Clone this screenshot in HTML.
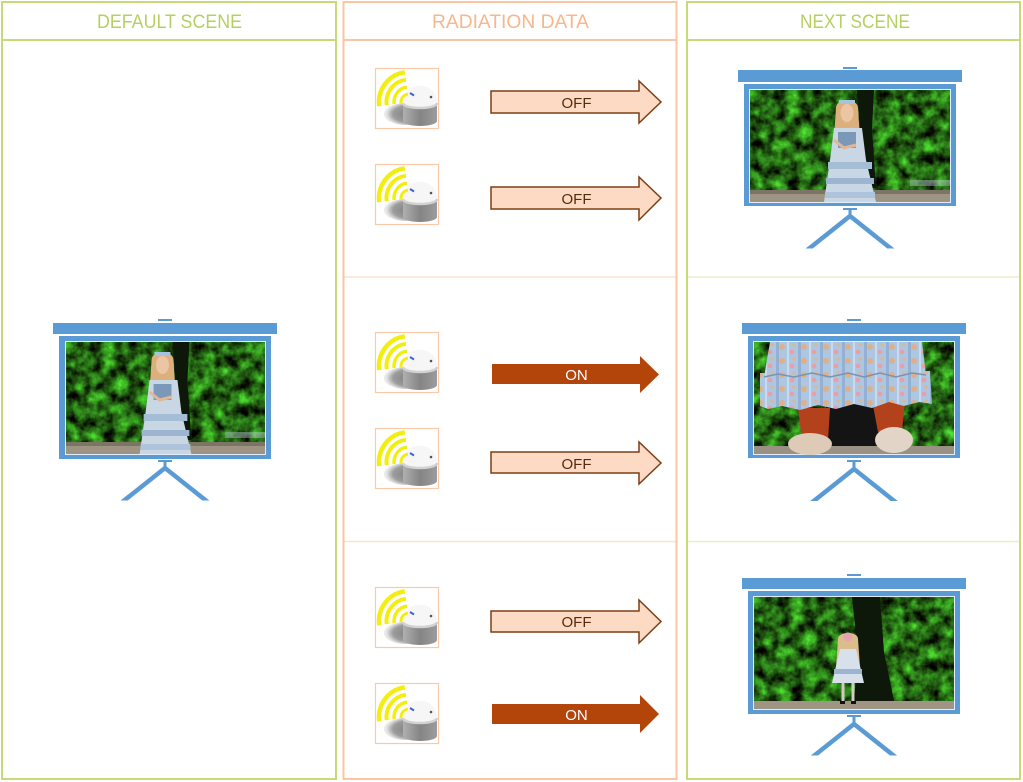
<!DOCTYPE html>
<html>
<head>
<meta charset="utf-8">
<style>
html,body{margin:0;padding:0;background:#fff;}
svg{display:block;}
</style>
</head>
<body>
<svg width="1023" height="782" viewBox="0 0 1023 782" xmlns="http://www.w3.org/2000/svg" xmlns:xlink="http://www.w3.org/1999/xlink" font-family="'Liberation Sans', Arial, sans-serif">
<defs>
  <filter id="bush" filterUnits="userSpaceOnUse" x="0" y="0" width="200" height="112" color-interpolation-filters="sRGB">
    <feTurbulence type="fractalNoise" baseFrequency="0.08" numOctaves="4" seed="4"/>
    <feColorMatrix type="matrix" values="0.45 0 0 0 -0.08  1.35 0 0 0 -0.27  0.3 0 0 0 -0.07  0 0 0 0 1"/>
  </filter>
  <filter id="bush2" filterUnits="userSpaceOnUse" x="0" y="0" width="200" height="112" color-interpolation-filters="sRGB">
    <feTurbulence type="fractalNoise" baseFrequency="0.08" numOctaves="4" seed="11"/>
    <feColorMatrix type="matrix" values="0.45 0 0 0 -0.08  1.35 0 0 0 -0.27  0.3 0 0 0 -0.07  0 0 0 0 1"/>
  </filter>
  <pattern id="flowers" patternUnits="userSpaceOnUse" width="22" height="14">
    <rect width="22" height="14" fill="#adc6e2"/>
    <rect x="0" y="0" width="3" height="14" fill="#94b0d2"/>
    <rect x="11" y="0" width="2" height="14" fill="#c8daee"/>
    <circle cx="6" cy="5" r="3" fill="#deb08a"/>
    <circle cx="16" cy="10" r="2.4" fill="#e8a0a8"/>
    <circle cx="18" cy="3" r="1.8" fill="#d9b896"/>
  </pattern>
  <radialGradient id="shadowG" cx="0.6" cy="0.5" r="0.55">
    <stop offset="0" stop-color="#7e7e7e"/>
    <stop offset="0.7" stop-color="#9c9c9c"/>
    <stop offset="1" stop-color="#e8e8e8"/>
  </radialGradient>
  <linearGradient id="bodyG" x1="0" x2="1" y1="0" y2="0">
    <stop offset="0" stop-color="#b0b0b0"/>
    <stop offset="0.5" stop-color="#858585"/>
    <stop offset="1" stop-color="#9c9c9c"/>
  </linearGradient>

  <g id="sensor">
    <rect x="0.5" y="0.5" width="63" height="60" fill="#fff" stroke="#fbc9a7" stroke-width="1.2"/>
    <ellipse cx="30" cy="46" rx="21" ry="11" fill="url(#shadowG)"/>
    <path d="M28,34 L28,53 A17,5 0 0 0 62,53 L62,34 Z" fill="url(#bodyG)"/>
    <path d="M28,35 C28,12 62,12 62,35 A17,5 0 0 1 28,35 Z" fill="#f6f6f6"/>
    <path d="M28,35 A17,5 0 0 0 62,35" fill="none" stroke="#d2d2d2" stroke-width="2.5"/>
    <line x1="35" y1="25" x2="39" y2="27.5" stroke="#4060e0" stroke-width="2"/>
    <circle cx="56" cy="29" r="1.3" fill="#555"/>
    <g fill="none" stroke="#f3ee10" stroke-linecap="butt">
      <path d="M4.3,38.2 A30,30 0 0 1 29.8,4.3" stroke-width="4.5"/>
      <path d="M11.7,37.1 A22.5,22.5 0 0 1 30.9,11.7" stroke-width="4"/>
      <path d="M19.15,36.1 A15,15 0 0 1 31.9,19.15" stroke-width="3.5"/>
      <path d="M26.1,35.1 A8,8 0 0 1 32.9,26.1" stroke-width="3"/>
    </g>
  </g>

  <g id="photoA">
    <rect width="200" height="112" fill="#2a6a1c" filter="url(#bush)"/>
    <path d="M107,0 L124,0 L122,40 L126,98 L112,98 L110,40 Z" fill="#0d180b"/>
    <rect x="0" y="100" width="200" height="12" fill="#7c7566"/>
    <rect x="0" y="104" width="200" height="8" fill="#9e9484"/>
    <rect x="160" y="90" width="40" height="6" fill="#b6c0d0" opacity="0.45"/>
    <path d="M86,18 C86,8 108,8 108,18 L110,48 L84,48 Z" fill="#dcb07c"/>
    <ellipse cx="97" cy="23" rx="6.5" ry="9" fill="#ecc6a4"/>
    <rect x="89" y="10" width="16" height="4" fill="#a6c2de"/>
    <path d="M84,38 L112,38 L116,70 L126,112 L74,112 L80,70 Z" fill="#c9d6e4"/>
    <path d="M88,42 L106,42 L106,58 L88,58 Z" fill="#7c98b8"/>
    <rect x="78" y="72" width="44" height="7" fill="#a6bdd6"/>
    <rect x="76" y="88" width="48" height="6" fill="#9db5d0"/>
    <rect x="75" y="102" width="50" height="6" fill="#aec3dc"/>
    <path d="M84,50 L94,58 L106,55" fill="none" stroke="#e0b898" stroke-width="3"/>
  </g>

  <g id="photoB">
    <rect width="200" height="112" fill="#2a6a1c" filter="url(#bush2)"/>
    <rect x="72" y="62" width="58" height="44" fill="#141414"/>
    <rect x="0" y="104" width="200" height="8" fill="#9a9184"/>
    <path d="M44,66 L76,66 L74,98 L48,98 Z" fill="#b3421c"/>
    <path d="M118,58 L151,58 L148,90 L124,90 Z" fill="#b3421c"/>
    <ellipse cx="56" cy="102" rx="22" ry="11" fill="#ddcbb8"/>
    <ellipse cx="140" cy="98" rx="19" ry="13" fill="#e2d4c6"/>
    <path d="M6,31 L176,29 L178,62 L165,60 L150,64 L135,60 L118,66 L100,62 L82,67 L64,63 L46,68 L28,64 L14,67 L6,64 Z" fill="url(#flowers)"/>
    <path d="M16,0 L168,0 L172,33 L158,31 L142,35 L126,31 L110,35 L94,31 L76,35 L58,31 L40,35 L24,32 L10,35 Z" fill="url(#flowers)"/>
    <path d="M10,35 L24,32 L40,35 L58,31 L76,35 L94,31 L110,35 L126,31 L142,35 L158,31 L172,33" fill="none" stroke="#7893b8" stroke-width="1.5"/>
  </g>

  <g id="photoC">
    <rect width="200" height="112" fill="#2a6a1c" filter="url(#bush)"/>
    <path d="M98,0 L126,0 L130,55 L140,104 L100,104 L104,55 Z" fill="#0d180b"/>
    <rect x="0" y="104" width="200" height="8" fill="#a09585"/>
    <path d="M84,42 C84,34 104,34 104,42 L106,70 L82,70 Z" fill="#dcbc8c"/>
    <circle cx="94" cy="40" r="4.5" fill="#e6a2b2"/>
    <path d="M86,52 L102,52 L110,86 L78,86 Z" fill="#d8e0eb"/>
    <rect x="80" y="72" width="28" height="5" fill="#9ab4d2"/>
    <line x1="89" y1="86" x2="89" y2="106" stroke="#d2cbc0" stroke-width="3"/>
    <line x1="99" y1="86" x2="99" y2="106" stroke="#d2cbc0" stroke-width="3"/>
    <rect x="86" y="104" width="5" height="3" fill="#111"/>
    <rect x="97" y="104" width="5" height="3" fill="#111"/>
  </g>

  <clipPath id="cL"><rect x="0" y="0" width="1023" height="500.5"/></clipPath>
  <clipPath id="cT"><rect x="0" y="0" width="1023" height="248.5"/></clipPath>
  <clipPath id="cM"><rect x="0" y="0" width="1023" height="501"/></clipPath>
  <clipPath id="cB"><rect x="0" y="0" width="1023" height="755.5"/></clipPath>
</defs>

<rect width="1023" height="782" fill="#fff"/>

<g fill="none" stroke-width="2">
  <rect x="2" y="2" width="334" height="777" stroke="#c6da78"/>
  <line x1="2" y1="40" x2="336" y2="40" stroke="#c6da78"/>
  <rect x="343.5" y="2" width="333" height="777" stroke="#fcc5a2"/>
  <line x1="343.5" y1="40" x2="676.5" y2="40" stroke="#fcc5a2"/>
  <rect x="687" y="2" width="333" height="777" stroke="#c6da78"/>
  <line x1="687" y1="40" x2="1020" y2="40" stroke="#c6da78"/>
</g>
<g stroke-width="1.5">
  <line x1="344.5" y1="277" x2="675.5" y2="277" stroke="#fde2d0"/>
  <line x1="344.5" y1="541.5" x2="675.5" y2="541.5" stroke="#fde2d0"/>
  <line x1="688" y1="277" x2="1019" y2="277" stroke="#e8f0c8"/>
  <line x1="688" y1="541.5" x2="1019" y2="541.5" stroke="#e8f0c8"/>
</g>

<g font-size="19" text-anchor="middle">
  <text x="169.5" y="28" fill="#b7cf62" textLength="145" lengthAdjust="spacingAndGlyphs">DEFAULT SCENE</text>
  <text x="510.5" y="28" fill="#f8b68c" textLength="157" lengthAdjust="spacingAndGlyphs">RADIATION DATA</text>
  <text x="855" y="28" fill="#b7cf62" textLength="110" lengthAdjust="spacingAndGlyphs">NEXT SCENE</text>
</g>

<use xlink:href="#sensor" transform="translate(375,68)"/>
<use xlink:href="#sensor" transform="translate(375,164)"/>
<use xlink:href="#sensor" transform="translate(375,332)"/>
<use xlink:href="#sensor" transform="translate(375,428)"/>
<use xlink:href="#sensor" transform="translate(375,587)"/>
<use xlink:href="#sensor" transform="translate(375,683)"/>

<g stroke="#7b3f15" stroke-width="1.5" fill="#fcdac4" stroke-linejoin="miter">
  <polygon points="491,91 639,91 639,81 661,102 639,123 639,113 491,113"/>
  <polygon points="491,187 639,187 639,177 661,198 639,220 639,209 491,209"/>
  <polygon points="491,452 639,452 639,442 661,463 639,484 639,473 491,473"/>
  <polygon points="491,611 639,611 639,600 661,621.5 639,643 639,632 491,632"/>
</g>
<g fill="#b3450b">
  <polygon points="492,364 640,364 640,356 659,374.5 640,393 640,384 492,384"/>
  <polygon points="492,704 640,704 640,695 659,714 640,733 640,724 492,724"/>
</g>
<g font-size="15" text-anchor="middle">
  <text x="576.5" y="108" fill="#5b2a0c">OFF</text>
  <text x="576.5" y="204" fill="#5b2a0c">OFF</text>
  <text x="576.5" y="380" fill="#ffffff">ON</text>
  <text x="576.5" y="469" fill="#5b2a0c">OFF</text>
  <text x="576.5" y="627" fill="#5b2a0c">OFF</text>
  <text x="576.5" y="720" fill="#ffffff">ON</text>
</g>

<g fill="#5b9bd5">
  <rect x="158" y="319" width="14" height="2"/>
  <rect x="53" y="323" width="224" height="11"/>
  <rect x="59" y="336" width="212" height="123"/>
  <rect x="158" y="460" width="14" height="2"/>
  <rect x="163.5" y="462" width="3" height="7"/>
</g>
<rect x="65" y="341" width="201" height="114" fill="#e3edf7"/>
<use xlink:href="#photoA" transform="translate(66,342) scale(0.995,1)"/>
<g clip-path="url(#cL)" stroke="#5b9bd5" stroke-width="4.5">
  <line x1="165" y1="468" x2="121" y2="503"/>
  <line x1="165" y1="468" x2="209" y2="503"/>
</g>

<g fill="#5b9bd5">
  <rect x="843" y="67" width="14" height="2"/>
  <rect x="738" y="70" width="224" height="12"/>
  <rect x="744" y="84" width="212" height="122"/>
  <rect x="843" y="208" width="14" height="2"/>
  <rect x="848.5" y="210" width="3" height="7"/>
</g>
<rect x="749" y="89" width="202" height="114" fill="#e3edf7"/>
<use xlink:href="#photoA" transform="translate(750,90)"/>
<g clip-path="url(#cT)" stroke="#5b9bd5" stroke-width="4.5">
  <line x1="850" y1="216" x2="806" y2="251"/>
  <line x1="850" y1="216" x2="894" y2="251"/>
</g>

<g fill="#5b9bd5">
  <rect x="847" y="319" width="14" height="2"/>
  <rect x="742" y="323" width="224" height="11"/>
  <rect x="748" y="336" width="212" height="122"/>
  <rect x="847" y="460" width="14" height="2"/>
  <rect x="852.5" y="462" width="3" height="8"/>
</g>
<rect x="753" y="341" width="202" height="114" fill="#e3edf7"/>
<use xlink:href="#photoB" transform="translate(754,342)"/>
<g clip-path="url(#cM)" stroke="#5b9bd5" stroke-width="4.5">
  <line x1="854" y1="469" x2="810" y2="504"/>
  <line x1="854" y1="469" x2="898" y2="504"/>
</g>

<g fill="#5b9bd5">
  <rect x="847" y="574" width="14" height="2"/>
  <rect x="742" y="578" width="224" height="11"/>
  <rect x="748" y="591" width="212" height="123"/>
  <rect x="847" y="715" width="14" height="2"/>
  <rect x="852.5" y="717" width="3" height="8"/>
</g>
<rect x="753" y="596" width="202" height="114" fill="#e3edf7"/>
<use xlink:href="#photoC" transform="translate(754,597)"/>
<g clip-path="url(#cB)" stroke="#5b9bd5" stroke-width="4.5">
  <line x1="854" y1="724" x2="810" y2="759"/>
  <line x1="854" y1="724" x2="898" y2="759"/>
</g>
</svg>
</body>
</html>
